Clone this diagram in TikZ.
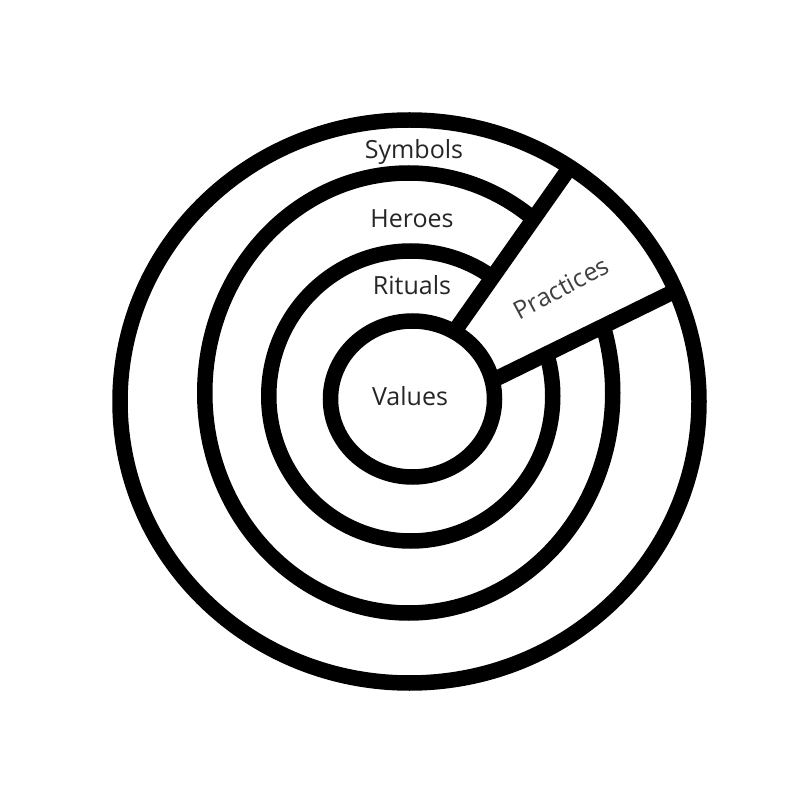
\documentclass[tikz,border=0pt]{standalone}
\usepackage{fontspec}
\setmainfont{Open Sans}
\begin{document}
\begin{tikzpicture}[x=1pt,y=-1pt,
  ring/.style={draw=black,line width=15.5pt},
  bar/.style={draw=black,line width=15.5pt},
  lbl/.style={font=\fontsize{25}{30}\selectfont,text=black!85,anchor=base,inner sep=0pt}]
\useasboundingbox[fill=white] (0,0) rectangle (796,794);
% named points
\coordinate (u1) at (454,332);
\coordinate (u2) at (568,170);
\coordinate (l1) at (492.5,380.5);
\coordinate (l2) at (675,291);
% middle rings
\draw[ring] (408.75,393) ellipse [x radius=204pt, y radius=220pt];
\draw[ring] (410.75,396) ellipse [x radius=142pt, y radius=145pt];
% open wedge for practices
\fill[white] (u1) -- (u2) -- (l2) -- (l1) -- cycle;
% separating bars
\draw[bar] (u1) -- (u2);
\draw[bar] (l1) -- (l2);
% inner and outer circles
\draw[ring] (412.5,399) ellipse [x radius=82pt, y radius=78pt];
\draw[ring] (409.5,401.5) ellipse [x radius=289.5pt, y radius=281.5pt];
% labels
\node[lbl] (sym) at (414,159) {Symbols};
\node[lbl] (her) at (412,228) {Heroes};
\node[lbl] (rit) at (412,295) {Rituals};
\node[lbl] (val) at (410,406) {Values};
\node[lbl,anchor=center,text=black!75,rotate=28] (pra) at (561,288) {Practices};
\end{tikzpicture}
\end{document}
